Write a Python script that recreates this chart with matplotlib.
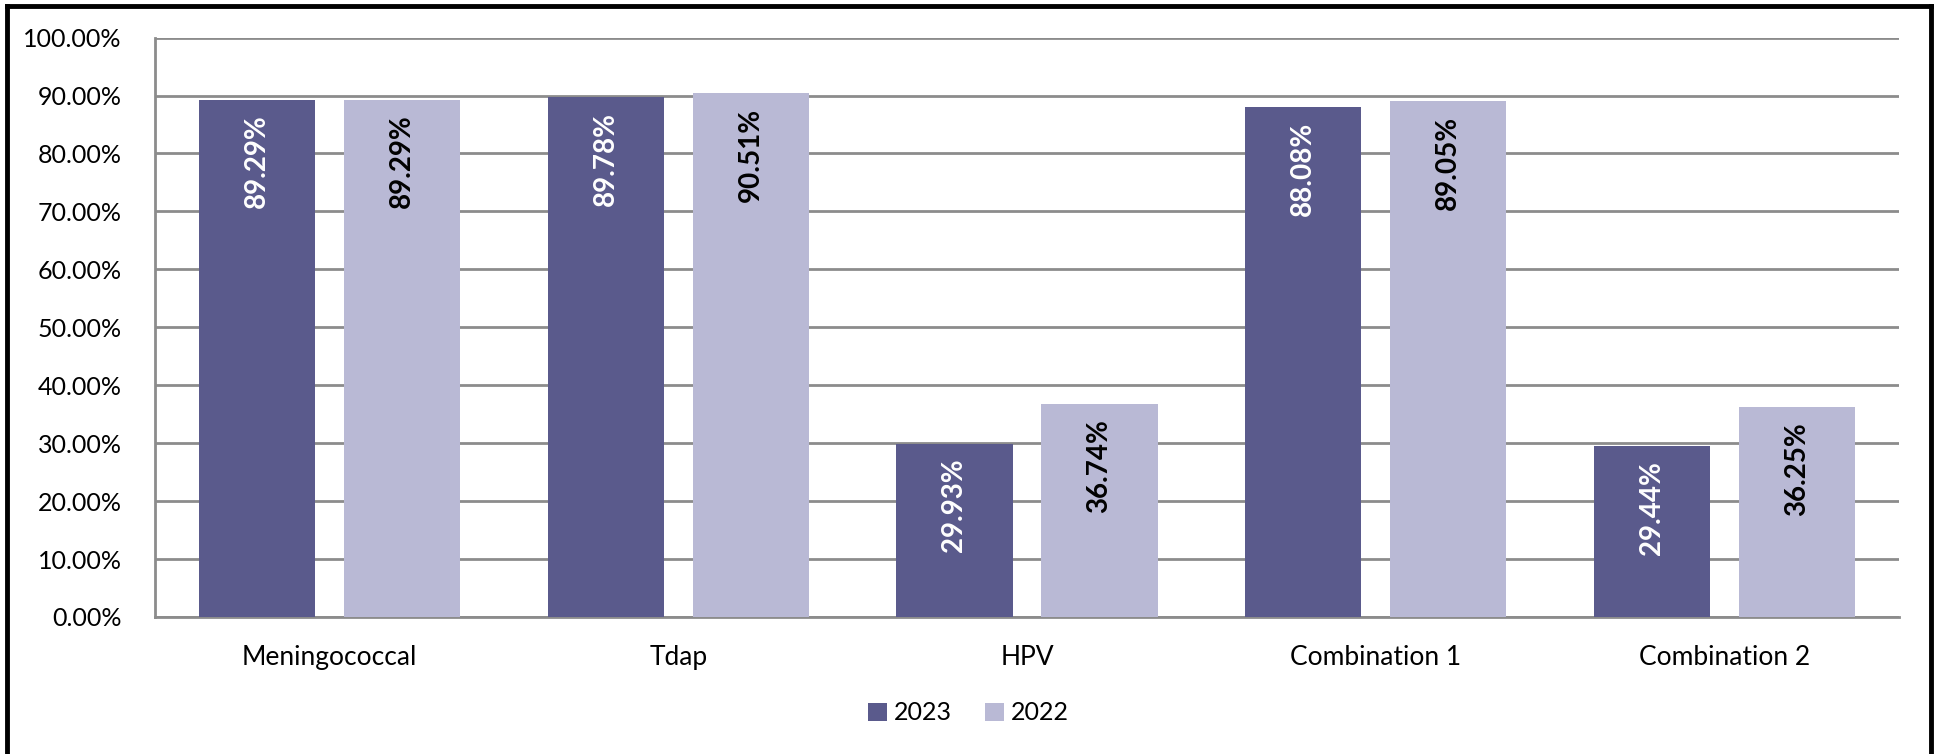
import numpy as np
import matplotlib
matplotlib.use("Agg")
from matplotlib import pyplot as plt
from matplotlib.ticker import FuncFormatter

categories = ["Meningococcal", "Tdap", "HPV", "Combination 1", "Combination 2"]
rates_2023 = [89.29, 89.78, 29.93, 88.08, 29.44]
rates_2022 = [89.29, 90.51, 36.74, 89.05, 36.25]

col_2023 = "#5a5a8c"
col_2022 = "#b9b9d5"
grid_col = "#8c8c8c"

plt.rcParams["font.family"] = ["Lato", "DejaVu Sans"]

fig = plt.figure(figsize=(19.37, 7.54), dpi=100)
ax = fig.add_axes([155/1937, 1-617/754, (1899-155)/1937, (617-37.6)/754])

x = np.arange(len(categories))
w = 0.333
off = 0.208
b1 = ax.bar(x - off, rates_2023, w, color=col_2023, label="2023", zorder=3)
b2 = ax.bar(x + off, rates_2022, w, color=col_2022, label="2022", zorder=3)

# value labels, rotated, inside the top of each bar
for bars, vals, tc in [(b1, rates_2023, "white"), (b2, rates_2022, "black")]:
	for r, v in zip(bars, vals):
		ax.text(r.get_x() + r.get_width()/2, v - 2.6, "%.2f%%" % v, rotation=90,
			ha="center", va="top", color=tc, fontsize=20, fontweight="bold", zorder=4)

ax.set_xlim(-0.5, len(categories) - 0.5)
ax.set_ylim(0, 100)
ax.set_yticks(np.arange(0, 101, 10))
ax.yaxis.set_major_formatter(FuncFormatter(lambda v, p: "%.2f%%" % v))
ax.grid(axis="y", color=grid_col, linewidth=2, zorder=0)
ax.set_xticks(x)
ax.set_xticklabels(categories)
ax.tick_params(axis="both", length=0, colors="black")
ax.tick_params(axis="x", pad=20, labelsize=19)
ax.tick_params(axis="y", pad=24, labelsize=18)
for s in ["top", "right"]:
	ax.spines[s].set_visible(False)
for s in ["left", "bottom"]:
	ax.spines[s].set_color(grid_col)
	ax.spines[s].set_linewidth(2)

fig.legend(handles=[b1, b2], labels=["2023", "2022"], loc="center",
	bbox_to_anchor=(0.5, 1-713/754), ncol=2, frameon=False, fontsize=18,
	handlelength=0.75, handleheight=0.75, handletextpad=0.3, columnspacing=1.3)

# outer frame (left, top, right edges only)
fig.add_artist(plt.Line2D([7/1937, 7/1937], [0, 1-6/754], color="black", linewidth=3.5, transform=fig.transFigure))
fig.add_artist(plt.Line2D([7/1937, 1931/1937], [1-6/754, 1-6/754], color="black", linewidth=3.5, transform=fig.transFigure))
fig.add_artist(plt.Line2D([1931/1937, 1931/1937], [0, 1-6/754], color="black", linewidth=3.5, transform=fig.transFigure))

fig.savefig("out.png", dpi=100)
